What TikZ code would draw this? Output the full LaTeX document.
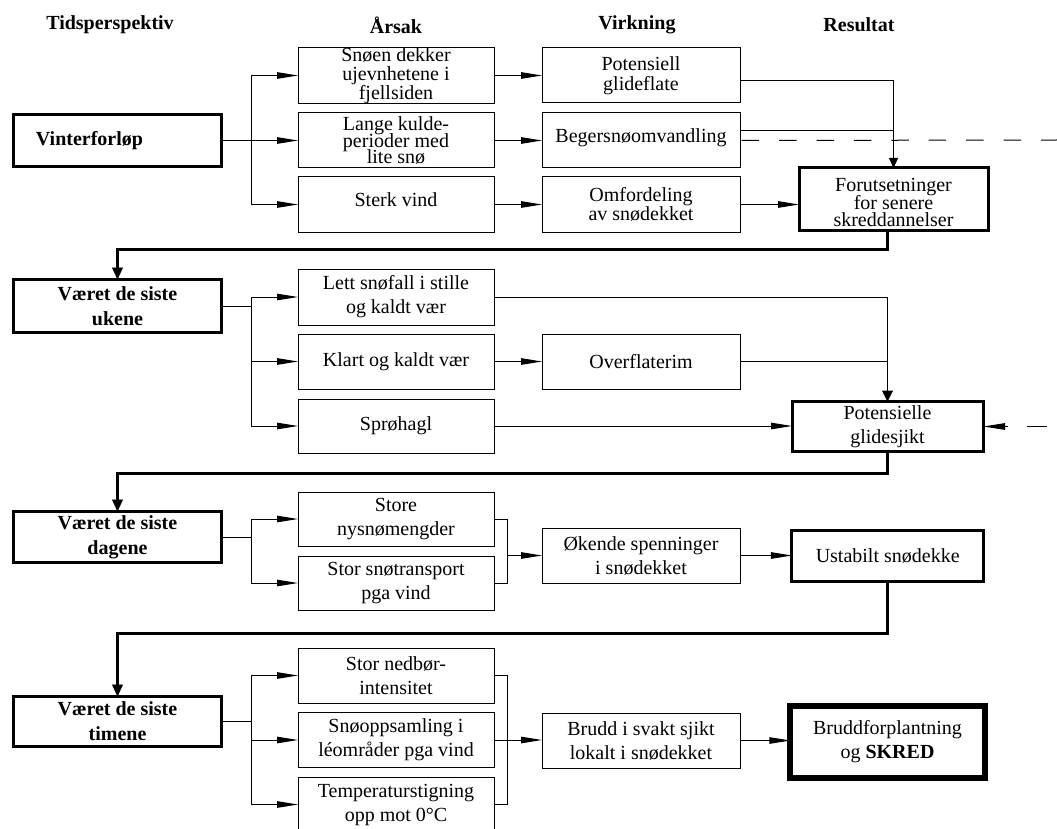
\documentclass[tikz,border=0pt]{standalone}
\usepackage{fontspec}
\setmainfont{Liberation Serif}
\usetikzlibrary{arrows.meta,calc}

\tikzset{
  base/.style={align=center, inner sep=0pt, outer sep=0pt,
    font=\fontsize{20}{24}\selectfont},
  tight/.style={font=\fontsize{20}{#1}\selectfont},
  header/.style={base, font=\fontsize{20}{24}\selectfont\bfseries},
  timebox/.style={base, draw, line width=3pt, minimum width=208pt,
    font=\fontsize{20}{25}\selectfont\bfseries},
  causebox/.style={base, draw, line width=1pt, minimum width=196pt, minimum height=55pt},
  effectbox/.style={base, draw, line width=1pt, minimum width=198pt, minimum height=55pt},
  resultbox/.style={base, draw, line width=3pt},
  link/.style={line width=1pt},
  arr/.style={line width=1pt, -{Triangle[length=21pt,width=6.5pt]}},
  arrdown/.style={line width=1pt, -{Triangle[length=10pt,width=9pt]}},
  arrdownwide/.style={line width=1pt, -{Triangle[length=11pt,width=11pt]}},
  bigarr/.style={line width=3pt, -{Triangle[length=12pt,width=11pt,line width=0.5pt]}},
  longdash/.style={line width=1pt, dash pattern=on 17.5pt off 19.9pt, dash phase=35.7pt},
  dasharr/.style={line width=1pt, dash pattern=on 20pt off 19pt,
    -{Triangle[length=22pt,width=6.5pt]}},
}

\begin{document}
% let tightly spaced lines keep their exact baseline distance
\setlength{\lineskiplimit}{-100pt}
\begin{tikzpicture}[x=1pt, y=-1pt]
  \useasboundingbox (0,0) rectangle (1057,829);

  % column headings
  \node[header] (hTid)  at (110,25) {Tidsperspektiv};
  \node[header] (hArs)  at (396,25) {Årsak};
  \node[header] (hVirk) at (637,25) {Virkning};
  \node[header] (hRes)  at (859,25) {Resultat};

  % helper positions: branch and merge columns, return-line levels
  \coordinate (bA) at (251,0);
  \coordinate (bM) at (507,0);
  \coordinate (t1) at (0,249);
  \coordinate (t2) at (0,473);
  \coordinate (t3) at (0,633);
  \coordinate (dashR) at (1057,140);
  \coordinate (dashR2) at (1047,426.5);

  % ---- winter course ----
  \node[timebox, minimum height=52pt] (vinter) at (117.5,140.5)
    {\hspace*{-56pt}Vinterforløp};
  \node[causebox, tight=19] (snoen) at (396,75.5) {Snøen dekker\\ujevnhetene i\\fjellsiden};
  \node[causebox, tight=16.4] (lange) at (396,140.5) {Lange kulde-\\perioder med\\lite snø};
  \node[causebox] (sterk) at (396,204.5) {\raisebox{4.5pt}[\height][\depth]{Sterk vind}};
  \node[effectbox, tight=20] (potglid) at (641,75.5) {Potensiell\\glideflate};
  \node[effectbox] (beger) at (641,140.5) {\raisebox{2.5pt}[\height][\depth]{Begersnøomvandling}};
  \node[effectbox, tight=19] (omford) at (641,204.5) {Omfordeling\\av snødekket};
  \node[resultbox, tight=17.5, minimum width=189pt, minimum height=62pt] (forut) at (893.5,199)
    {\rule{0pt}{20.7pt}Forutsetninger\\for senere\\skreddannelser};

  \draw[link] (vinter.east) -- (vinter.east -| bA);
  \draw[link] (bA |- snoen) -- (bA |- sterk);
  \draw[arr] (bA |- snoen) -- (snoen.west);
  \draw[arr] (vinter.east) -- (lange.west);
  \draw[arr] (bA |- sterk) -- (sterk.west);
  \draw[arr] (snoen.east) -- (potglid.west);
  \draw[arr] (lange.east) -- (beger.west);
  \draw[arr] (sterk.east) -- (omford.west);
  \draw[arrdown] ([yshift=-5.5pt]potglid.east) -| (forut.north);
  \draw[link] ([yshift=9.8pt]beger.east) -- ([yshift=9.8pt]beger.east -| forut.north);
  \draw[longdash] (beger.east) -- (dashR);
  \draw[arr] (omford.east) -- (omford.east -| forut.west);

  % ---- weather of the last weeks ----
  \node[timebox, minimum height=53pt] (ukene) at (117.5,306) {Været de siste\\ukene};
  \node[causebox, minimum height=56pt] (lett) at (396,297) {Lett snøfall i stille\\og kaldt vær};
  \node[causebox] (klart) at (396,361.5) {Klart og kaldt vær};
  \node[causebox, minimum height=54pt] (sproh) at (396,426) {Sprøhagl};
  \node[effectbox] (overfl) at (641,361.5) {Overflaterim};
  \node[resultbox, minimum width=191pt, minimum height=50pt] (potsjikt) at (887.5,426.5)
    {Potensielle\\glidesjikt};

  \draw[bigarr] ([xshift=-6pt]forut.south) |- (ukene.north |- t1) -- (ukene.north);
  \draw[link] (ukene.east) -- (ukene.east -| bA);
  \draw[link] (bA |- lett) -- (bA |- sproh);
  \draw[arr] (bA |- lett) -- (lett.west);
  \draw[arr] (bA |- klart) -- (klart.west);
  \draw[arr] (bA |- sproh) -- (sproh.west);
  \draw[arrdownwide] (lett.east) -| (potsjikt.north);
  \draw[arr] (klart.east) -- (overfl.west);
  \draw[link] (overfl.east) -- (overfl.east -| potsjikt.north);
  \draw[arr] (sproh.east) -- (sproh.east -| potsjikt.west);
  \draw[dasharr] (dashR2) -- (potsjikt.east);

  % ---- weather of the last days ----
  \node[timebox, minimum height=51pt] (dagene) at (117.5,537) {Været de siste\\dagene};
  \node[causebox, minimum height=54pt] (store) at (396,519) {Store\\nysnømengder};
  \node[causebox, minimum height=54pt] (snotrans) at (396,583) {Stor snøtransport\\pga vind};
  \node[effectbox] (okende) at (641,555.5) {Økende spenninger\\i snødekket};
  \node[resultbox, minimum width=191.5pt, minimum height=51pt] (ustabil) at (887.7,556)
    {Ustabilt snødekke};

  \draw[bigarr] (potsjikt.south) |- (dagene.north |- t2) -- (dagene.north);
  \draw[link] (dagene.east) -- (dagene.east -| bA);
  \draw[link] (bA |- store) -- (bA |- snotrans);
  \draw[arr] (bA |- store) -- (store.west);
  \draw[arr] (bA |- snotrans) -- (snotrans.west);
  \draw[link] (store.east) -- (store.east -| bM) -- (snotrans.east -| bM) -- (snotrans.east);
  \draw[arr] (bM |- okende) -- (okende.west);
  \draw[arr] (okende.east) -- (okende.east -| ustabil.west);

  % ---- weather of the last hours ----
  \node[timebox, minimum height=50pt] (timene) at (117.5,721.5) {Været de siste\\timene};
  \node[causebox] (nedbor) at (396,675.5) {Stor nedbør-\\intensitet};
  \node[causebox] (snoopp) at (396,740) {Snøoppsamling i\\léområder pga vind};
  \node[causebox] (temp) at (396,804.5) {Temperaturstigning\\opp mot 0°C};
  \node[effectbox] (brudd) at (641,740.5) {Brudd i svakt sjikt\\lokalt i snødekket};
  \node[resultbox, line width=6pt, minimum width=194.4pt, minimum height=72pt] (skred) at (887.5,741.7)
    {Bruddforplantning\\og \textbf{SKRED}};

  \draw[bigarr] (ustabil.south) |- (timene.north |- t3) -- (timene.north);
  \draw[link] (timene.east) -- (timene.east -| bA);
  \draw[link] (bA |- nedbor) -- (bA |- temp);
  \draw[arr] (bA |- nedbor) -- (nedbor.west);
  \draw[arr] (bA |- snoopp) -- (snoopp.west);
  \draw[arr] (bA |- temp) -- (temp.west);
  \draw[link] (nedbor.east) -- (nedbor.east -| bM) -- (temp.east -| bM) -- (temp.east);
  \draw[arr] (snoopp.east) -- (snoopp.east -| brudd.west);
  \draw[arr] (brudd.east) -- (brudd.east -| skred.west);
\end{tikzpicture}
\end{document}
